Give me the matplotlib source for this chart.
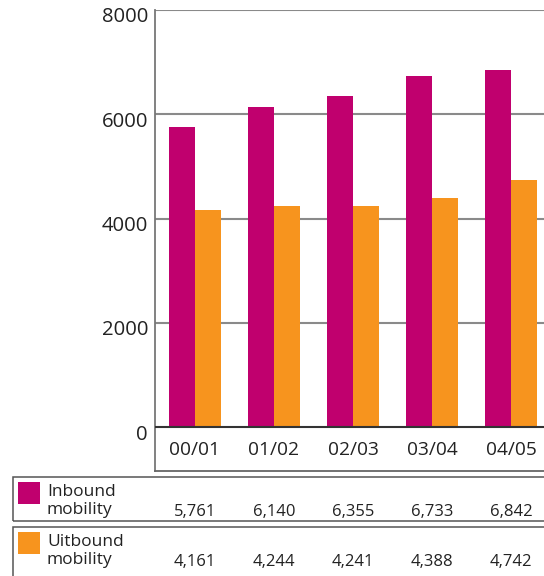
import numpy as np
import matplotlib.pyplot as plt
from matplotlib.patches import Rectangle
from matplotlib.transforms import ScaledTranslation, blended_transform_factory

years = ['00/01', '01/02', '02/03', '03/04', '04/05']
inbound = [5761, 6140, 6355, 6733, 6842]
uitbound = [4161, 4244, 4241, 4388, 4742]
series_names = ['Inbound\nmobility', 'Uitbound\nmobility']
yticks = [0, 2000, 4000, 6000, 8000]

magenta = '#c0006e'
orange = '#f7941e'

W, H = 544, 576
plt.rcParams['font.family'] = ['Open Sans', 'DejaVu Sans']

fig = plt.figure(figsize=(W / 100, H / 100), dpi=100)


def fx(px):
    return px / W


def fy(py):
    return 1 - py / H


# plot area runs from the 8000 line down to the bottom rule under the labels
ax = fig.add_axes([fx(155), fy(471), 1 - fx(155), fy(10) - fy(471)])
ax.set_ylim(-844, 8000)
ax.set_xlim(-0.506, 4.418)

x = np.arange(len(years))
w = 0.33
ax.bar(x - w / 2, inbound, w, color=magenta, zorder=3)
ax.bar(x + w / 2, uitbound, w, color=orange, zorder=3)

for v in yticks[1:]:
    ax.axhline(v, color='#8a8a8a', lw=1.5, zorder=1)
ax.axhline(0, color='#333333', lw=1.5, zorder=4)

ax.set_yticks(yticks)
ax.set_yticklabels([str(v) for v in yticks], fontsize=14.6, color='#222222')
ax.tick_params(axis='y', length=0, pad=5)
ax.set_xticks([])
for lab in ax.get_yticklabels():
    lab.set_transform(lab.get_transform() + ScaledTranslation(0, -0.05, fig.dpi_scale_trans))

for s in ['top', 'right']:
    ax.spines[s].set_visible(False)
ax.spines['left'].set_color('#777777')
ax.spines['left'].set_linewidth(1.3)
ax.spines['bottom'].set_color('#666666')
ax.spines['bottom'].set_linewidth(1.3)

# year labels under the bars
for xi, lab in zip(x, years):
    ax.text(xi, -440, lab, ha='center', va='center', fontsize=13.8, color='#222222')

# table of values below the chart
tr = blended_transform_factory(ax.transData, fig.transFigure)
rows = [(477, 521, magenta, inbound), (527, 600, orange, uitbound)]
for (top, bottom, col, vals), name in zip(rows, series_names):
    fig.patches.append(Rectangle((fx(13), fy(bottom)), 1.2, fy(top) - fy(bottom),
                                 transform=fig.transFigure, fill=False,
                                 edgecolor='#555555', lw=1.1))
    fig.patches.append(Rectangle((fx(18), fy(top + 27)), fx(22), fy(top + 5) - fy(top + 27),
                                 transform=fig.transFigure, color=col, lw=0))
    fig.text(fx(47), fy(top + 24), name, ha='left', va='center', fontsize=12.5,
             color='#222222', linespacing=1.12)
    for xi, v in zip(x, vals):
        ax.text(xi, fy(top + 35), f'{v:,}', transform=tr, ha='center', va='center',
                fontsize=12, color='#222222')

fig.savefig('out.png', dpi=100)
